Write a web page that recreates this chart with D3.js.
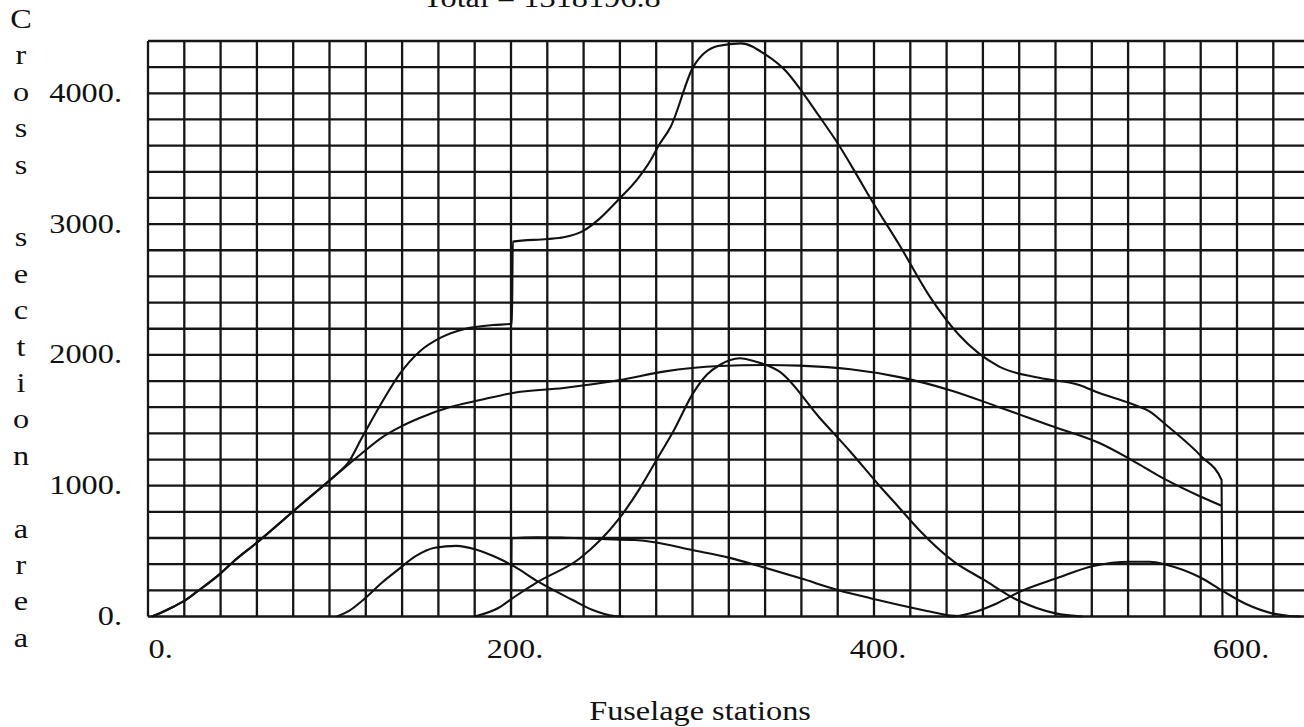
<!DOCTYPE html>
<html><head><meta charset="utf-8">
<script src="https://cdn.jsdelivr.net/npm/d3@7"></script>
<style>
html,body{margin:0;padding:0;background:#fff;}
svg{display:block;}
text{font-family:"Liberation Serif","Times New Roman",serif;fill:#111;}
</style></head>
<body><svg id="c" width="1304" height="727"></svg>
<script>
// ---- data ----
const titleText = "Total = 1318196.8";
const xLabel = "Fuselage stations";
const yLabel = "Cross section area";
const xTicks = [0, 200, 400, 600];
const xTickLabels = ["0.", "200.", "400.", "600."];
const yTicks = [0, 1000, 2000, 3000, 4000];
const yTickLabels = ["0.", "1000.", "2000.", "3000.", "4000."];

const totalCurve = [[2,0],[8,35],[14,75],[19.5,115],[27,190],[40,330],[47,419],[60,565],[84,852],[104,1090],[110,1170],[118,1370],[129,1640],[139,1860],[150,2030],[161,2130],[175,2200],[190,2228],[200.5,2238],[201,2866],[220,2886],[229,2899],[239,2942],[249,3044],[259,3184],[270,3350],[277,3490],[281,3592],[288,3745],[300.5,4204],[314,4362],[326.7,4382],[340.5,4293],[351.8,4165],[361,4000],[370,3821],[380,3618],[390,3388],[398,3197],[414,2840],[431,2440],[447,2150],[469,1910],[491,1825],[513,1770],[524.5,1706],[541,1630],[552,1566],[561,1464],[580.5,1222],[591.5,1044],[592,0]];
const bodyCurve = [[2,0],[8,35],[14,75],[19.5,115],[27,190],[40,330],[47,419],[60,565],[84,852],[108.5,1140],[118,1250],[129,1370],[139,1450],[150,1520],[166,1600],[183,1655],[201,1709],[229,1747],[260,1808],[284,1872],[315,1915],[341,1923],[359,1918],[387,1890],[414,1830],[442,1730],[469,1600],[497,1460],[524.5,1324],[542,1196],[561,1044],[578,929],[591.5,847]];
const compB = [[104,0],[111,45],[118,120],[129,260],[138,360],[147,457],[158,525],[170,540],[181,510],[193,445],[202,381],[215,266],[234,126],[245,50],[257,4],[262,0]];
const compC = [[180,0],[193,65],[202,151],[215,266],[238,445],[259,738],[271,980],[282,1240],[290,1430],[300,1700],[308,1850],[315,1923],[326,1974],[335,1948],[348,1872],[370,1520],[387,1260],[403,1000],[414,830],[425,660],[444,420],[460,285],[479,126],[500,24],[515,0]];
const compD = [[200,0],[200.3,598],[215,606],[230,602],[250,592],[268,585],[277,572],[300,508],[320,450],[338,381],[360,290],[380,203],[398,140],[414,88],[430,40],[440,11],[451,0]];
const compE = [[440,0],[447,5],[453,24],[467.6,100],[480.5,190],[500.6,292],[520.8,386],[541,419],[552,419],[561,396],[579.6,300],[592.5,192],[605,95],[620,22],[629,4],[635,0]];
const curves = [totalCurve, bodyCurve, compB, compC, compD, compE];

// ---- layout ----
const svg = d3.select("#c");
const x = d3.scaleLinear().domain([0, 640]).range([148, 148 + 640 * 1.815]);
const y = d3.scaleLinear().domain([0, 4400]).range([616.5, 616.5 - 4400 * 0.1308]);
const SX = 1.22, FS = 26.5;

// grid
const grid = svg.append("g").attr("stroke", "#151515").attr("stroke-width", 2.3);
grid.selectAll("line.v").data(d3.range(0, 641, 20)).join("line")
  .attr("x1", d => x(d)).attr("x2", d => x(d)).attr("y1", y(0)).attr("y2", y(4400));
grid.selectAll("line.h").data(d3.range(0, 4401, 200)).join("line")
  .attr("x1", x(0)).attr("x2", x(640)).attr("y1", d => y(d)).attr("y2", d => y(d));

// curves
const line = d3.line().x(d => x(d[0])).y(d => y(d[1])).curve(d3.curveMonotoneX);
svg.append("g").selectAll("path").data(curves).join("path")
  .attr("d", line).attr("fill", "none").attr("stroke", "#111").attr("stroke-width", 2.1);

// y axis
const yAxis = d3.axisLeft(y).tickValues(yTicks).tickSize(0)
  .tickFormat((d, i) => yTickLabels[i]);
const gy = svg.append("g").attr("transform", `translate(${x(0)},0)`).call(yAxis);
gy.select(".domain").remove();
gy.selectAll("text").attr("x", 0).attr("dy", 0)
  .attr("transform", `translate(-26,8) scale(${SX},1)`)
  .attr("text-anchor", "end").style("font-size", FS + "px")
  .style("font-family", '"Liberation Serif",serif').attr("fill", "#111");

// x axis
const xAxis = d3.axisBottom(x).tickValues(xTicks).tickSize(0)
  .tickFormat((d, i) => xTickLabels[i]);
const gx = svg.append("g").attr("transform", `translate(0,${y(0)})`).call(xAxis);
gx.select(".domain").remove();
gx.selectAll("text").attr("y", 0).attr("dy", 0)
  .attr("text-anchor", d => d === 0 ? "start" : "middle")
  .attr("transform", d => `translate(${d === 0 ? 0 : 3.5},41.5) scale(${SX},1)`)
  .style("font-size", FS + "px")
  .style("font-family", '"Liberation Serif",serif').attr("fill", "#111");

// x label
svg.append("text").attr("transform", `translate(700,720) scale(${SX},1)`)
  .attr("text-anchor", "middle").style("font-size", FS + "px").text(xLabel);

// title (cut by top edge, as in the reference)
svg.append("text").attr("transform", `translate(423,7) scale(${SX},1)`)
  .attr("text-anchor", "start").style("font-size", FS + "px").text(titleText);

// y label: stacked letters
const letters = yLabel.split("");
svg.append("g").selectAll("text").data(letters).join("text")
  .attr("transform", (d, i) => `translate(21,${20 + 36.4 * i + 8}) scale(${SX},1)`)
  .attr("text-anchor", "middle").style("font-size", FS + "px")
  .text(d => d === " " ? "" : d);
</script></body></html>
